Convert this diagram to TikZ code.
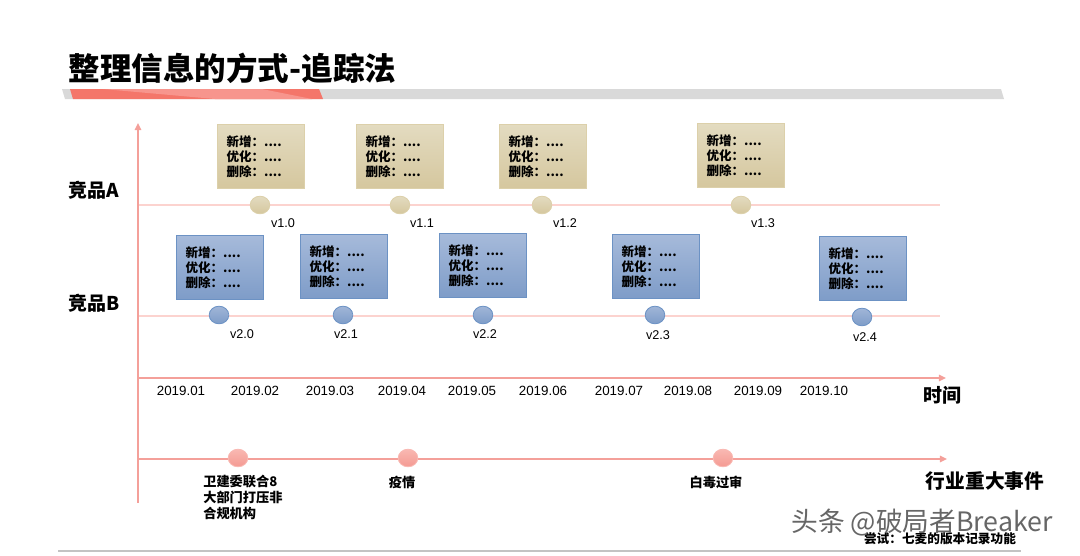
\documentclass[tikz,border=0pt]{standalone}
\usepackage{fontspec}
\setmainfont{Liberation Sans}
\newfontfamily\cjk{Noto Sans CJK SC}
\usepackage{xcolor}
\usetikzlibrary{arrows.meta,positioning,shapes.geometric}
\definecolor{axisred}{HTML}{F4A09A}
\definecolor{trackpink}{HTML}{FCD3CF}
\definecolor{bandred}{HTML}{F4766A}
\definecolor{bandlight}{HTML}{F7958D}
\definecolor{bandgray}{HTML}{D9D9D9}
\definecolor{tantop}{HTML}{E3DBC0}
\definecolor{tanbot}{HTML}{D5C79E}
\definecolor{tanedge}{HTML}{DCD0AA}
\definecolor{bluetop}{HTML}{A6BADA}
\definecolor{bluebot}{HTML}{7E9CC8}
\definecolor{blueedge}{HTML}{6C92C4}
\definecolor{pinktop}{HTML}{F9B8B2}
\definecolor{pinkbot}{HTML}{F49A92}
\newcommand\verlog{新增：....\\优化：....\\删除：....}

\begin{document}
\begin{tikzpicture}[x=0.025cm,y=-0.025cm,>={Triangle[length=5pt,width=4.5pt]},
  axis/.style={draw=axisred,line width=1.1pt},
  track/.style={draw=trackpink,line width=1.4pt},
  logbox/.style={rectangle,anchor=north west,text width=1.725cm,inner xsep=0.225cm,inner ysep=0pt,
    minimum height=1.6cm,align=left,font=\cjk\bfseries\fontsize{8.9}{10.7}\selectfont},
  boxA/.style={logbox,top color=tantop,bottom color=tanbot,draw=tanedge,line width=0.8pt},
  boxB/.style={logbox,top color=bluetop,bottom color=bluebot,draw=blueedge,line width=0.8pt},
  dot/.style={ellipse,minimum width=0.49cm,minimum height=0.44cm,inner sep=0pt},
  dotA/.style={dot,top color=tantop,bottom color=tanbot,draw=tanedge,line width=0.6pt},
  dotB/.style={dot,top color=bluetop!85!bluebot,bottom color=bluebot,draw=blueedge,line width=0.6pt},
  dotE/.style={dot,top color=pinktop,bottom color=pinkbot,draw=pinktop,line width=0.6pt},
  vlabel/.style={font=\fontsize{9}{10}\selectfont},
  date/.style={font=\fontsize{9.5}{11}\selectfont},
  rowlabel/.style={font=\cjk\bfseries\fontsize{13.5}{15}\selectfont},
  event/.style={font=\cjk\bfseries\fontsize{9.4}{11.4}\selectfont,align=left}]
\useasboundingbox (0,0) rectangle (1080,555);

% title and band
\node[font=\cjk\bfseries\fontsize{22.4}{26}\selectfont,anchor=west] (title) at (64,68) {整理信息的方式-追踪法};
\fill[bandgray] (62,89) -- (1001,89) -- (1004,99) -- (65,99) -- cycle;
\fill[bandred] (70,89) -- (319,89) -- (323,99) -- (73,99) -- cycle;
\fill[bandlight] (103,89) -- (262,89) -- (312,99) -- (215,99) -- cycle;

% axes
\coordinate (o) at (138,503); \coordinate (top) at (138,123);
\coordinate (a0) at (138,205); \coordinate (a1) at (940,205);
\coordinate (b0) at (138,316); \coordinate (b1) at (940,316);
\coordinate (t0) at (138,378); \coordinate (t1) at (946,378);
\coordinate (e0) at (138,459); \coordinate (e1) at (947,459);
\draw[track] (a0) -- (a1);  \draw[track] (b0) -- (b1);
\draw[axis,->] (o) -- (top);
\draw[axis,->] (t0) -- (t1);
\draw[axis,->] (e0) -- (e1);

\node[rowlabel] (labA) at (94,190) {竞品A};
\node[rowlabel] (labB) at (94,303) {竞品B};
\node[rowlabel] (labT) at (942,395) {时间};
\node[rowlabel,font=\cjk\bfseries\fontsize{14}{16}\selectfont] (labE) at (985,481) {行业重大事件};

% competitor A
\node[boxA] (logA0) at (217,124) {\verlog};
\node[boxA] (logA1) at (356,124) {\verlog};
\node[boxA] (logA2) at (499,124) {\verlog};
\node[boxA] (logA3) at (697,123) {\verlog};
\node[dotA] (vA0) at (260,205) {}; \node[vlabel] at (283,223) {v1.0};
\node[dotA] (vA1) at (400,205) {}; \node[vlabel] at (422,223) {v1.1};
\node[dotA] (vA2) at (542,205) {}; \node[vlabel] at (565,223) {v1.2};
\node[dotA] (vA3) at (741,205) {}; \node[vlabel] at (763,223) {v1.3};

% competitor B
\node[boxB] (logB0) at (176,235) {\verlog};
\node[boxB] (logB1) at (300,234) {\verlog};
\node[boxB] (logB2) at (439,233) {\verlog};
\node[boxB] (logB3) at (612,234) {\verlog};
\node[boxB] (logB4) at (819,236) {\verlog};
\node[dotB] (vB0) at (219,315) {}; \node[vlabel] at (242,334) {v2.0};
\node[dotB] (vB1) at (343,315) {}; \node[vlabel] at (346,334) {v2.1};
\node[dotB] (vB2) at (483,315) {}; \node[vlabel] at (485,334) {v2.2};
\node[dotB] (vB3) at (655,315) {}; \node[vlabel] at (658,335) {v2.3};
\node[dotB] (vB4) at (862,317) {}; \node[vlabel] at (865,337) {v2.4};

% months
\foreach \m/\x in {01/181,02/255,03/330,04/402,05/472,06/543,07/619,08/688,09/758,10/824}
  \node[date] (m\m) at (\x,391) {2019.\m};

% industry events
\node[dotE] (ev0) at (238,458) {};
\node[dotE] (ev1) at (408,458) {};
\node[dotE] (ev2) at (723,458) {};
\node[event,anchor=north west,inner sep=0pt] (txt0) at (203,475) {卫建委联合8\\大部门打压非\\合规机构};
\node[event] (txt1) at (402,482) {疫情};
\node[event] (txt2) at (716,482) {白毒过审};

% footer
\draw[draw=bandgray!90!black,line width=1pt] (58,551) coordinate (f0) -- (1021,551) coordinate (f1);
\node[event,font=\cjk\bfseries\fontsize{9}{10}\selectfont] (note) at (940,539) {尝试：七麦的版本记录功能};
\node[font=\cjk\fontsize{19}{21}\selectfont,text=black!60] (mark) at (922,523) {头条 @破局者Breaker};
\end{tikzpicture}
\end{document}
